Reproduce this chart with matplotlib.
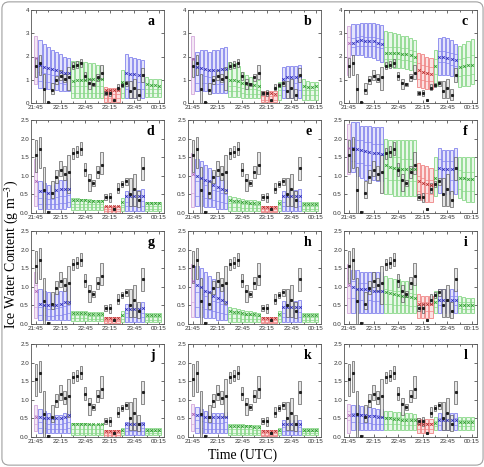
import numpy as np
import matplotlib.pyplot as plt
from matplotlib.patches import FancyBboxPatch

plt.rcParams['font.family'] = ['Liberation Sans', 'DejaVu Sans']
plt.rcParams['mathtext.fontset'] = 'stix'

# model output times (minutes after 21:45) and segment type of each box
t_mod = [0, 5, 10, 15, 20, 25, 30, 35, 40, 45, 50, 55, 60, 65, 70, 75, 80,
         85, 90, 95, 100, 105, 110, 115, 120, 125, 130, 135, 140, 145, 150]
mod_kind = "pbbbbbbbbggggggggrrrrgbbbbbgggg"

# observations (black boxes), same in every panel
t_obs = [0, 5, 10, 15, 20, 25, 30, 35, 40, 45, 50, 55, 60, 65, 70, 75, 80,
         85, 90, 95, 100, 105, 110, 115, 120, 125, 130]
obs_lo = [1.10, 1.20, 0.00, 0.00, 0.40, 0.80, 1.00, 0.90, 0.55, 1.45, 1.50, 1.55, 1.00, 0.60,
          0.72, 0.95, 1.05, 0.35, 0.30, 0.08, 0.55, 0.70, 0.75, 0.20, 0.20, 0.15, 0.90]
obs_hi = [1.95, 2.05, 1.25, 0.06, 0.85, 1.15, 1.40, 1.25, 1.55, 1.75, 1.80, 1.90, 1.35, 1.05,
          0.88, 1.25, 1.65, 0.50, 0.55, 0.14, 0.80, 0.85, 0.95, 0.95, 1.05, 0.60, 1.50]
obs_mid = [1.57, 1.72, 0.62, 0.03, 0.55, 0.97, 1.15, 1.05, 1.10, 1.60, 1.65, 1.72, 1.15, 0.88,
           0.80, 1.10, 1.30, 0.42, 0.42, 0.11, 0.65, 0.78, 0.85, 0.50, 0.65, 0.35, 1.20]

# panel a
a_hi = [2.90, 2.70, 2.55, 2.40, 2.30, 2.20, 2.10, 2.00, 1.95, 1.80, 1.80, 1.75, 1.75, 1.70, 1.70, 1.65,
        1.60, 0.70, 0.65, 0.65, 0.65, 1.40, 2.10, 2.00, 1.95, 1.90, 1.85, 1.10, 1.05, 1.05, 1.05]
a_q3 = [1.60, 1.35, 1.30, 1.25, 1.20, 1.20, 1.15, 1.10, 1.10, 0.75, 0.75, 0.75, 0.75, 0.75, 0.75, 0.75,
        0.75, 0.40, 0.40, 0.40, 0.40, 0.70, 0.95, 0.95, 0.90, 0.90, 0.90, 0.60, 0.60, 0.60, 0.60]
a_q1 = [1.15, 0.95, 0.90, 0.90, 0.85, 0.85, 0.85, 0.80, 0.80, 0.45, 0.45, 0.45, 0.45, 0.45, 0.45, 0.45,
        0.45, 0.20, 0.20, 0.20, 0.20, 0.45, 0.60, 0.60, 0.60, 0.60, 0.60, 0.45, 0.45, 0.45, 0.45]
a_lo = [0.80, 0.65, 0.60, 0.60, 0.55, 0.55, 0.50, 0.50, 0.50, 0.20, 0.20, 0.20, 0.20, 0.20, 0.20, 0.20,
        0.20, 0.05, 0.05, 0.05, 0.05, 0.20, 0.20, 0.20, 0.20, 0.20, 0.20, 0.25, 0.25, 0.25, 0.25]
a_mean = [1.95, 1.65, 1.55, 1.50, 1.45, 1.40, 1.35, 1.30, 1.30, 0.95, 0.97, 1.00, 1.00, 1.02, 1.02, 1.02,
          1.05, 0.55, 0.55, 0.55, 0.55, 0.90, 1.30, 1.25, 1.25, 1.20, 1.20, 0.80, 0.78, 0.77, 0.75]

# panel b
b_hi = [2.90, 2.20, 2.30, 2.30, 2.20, 2.30, 2.30, 2.35, 2.40, 1.75, 1.70, 1.60, 1.35, 1.20, 1.10, 1.00,
        1.00, 0.50, 0.50, 0.50, 0.50, 0.90, 1.55, 1.60, 1.60, 1.60, 1.65, 1.05, 0.95, 0.90, 0.90]
b_q3 = [1.60, 1.20, 1.20, 1.15, 1.10, 1.10, 1.10, 1.15, 1.15, 0.75, 0.75, 0.70, 0.65, 0.60, 0.60, 0.60,
        0.58, 0.30, 0.30, 0.30, 0.30, 0.55, 0.85, 0.85, 0.85, 0.85, 0.90, 0.55, 0.55, 0.55, 0.55]
b_q1 = [1.15, 0.85, 0.85, 0.85, 0.80, 0.80, 0.80, 0.80, 0.80, 0.50, 0.50, 0.50, 0.45, 0.40, 0.40, 0.40,
        0.40, 0.15, 0.15, 0.15, 0.15, 0.35, 0.55, 0.55, 0.55, 0.55, 0.55, 0.35, 0.35, 0.35, 0.35]
b_lo = [0.40, 0.50, 0.50, 0.50, 0.45, 0.45, 0.45, 0.45, 0.45, 0.25, 0.25, 0.25, 0.20, 0.20, 0.20, 0.20,
        0.20, 0.05, 0.05, 0.05, 0.05, 0.15, 0.20, 0.20, 0.20, 0.20, 0.20, 0.15, 0.15, 0.15, 0.15]
b_mean = [1.90, 1.55, 1.50, 1.45, 1.40, 1.40, 1.40, 1.45, 1.45, 1.00, 1.00, 0.95, 0.85, 0.80, 0.80, 0.78,
          0.75, 0.45, 0.42, 0.42, 0.40, 0.75, 1.05, 1.10, 1.10, 1.10, 1.15, 0.75, 0.70, 0.70, 0.72]

# panel c
c_hi = [3.30, 3.40, 3.40, 3.45, 3.45, 3.45, 3.45, 3.40, 3.35, 3.10, 3.05, 3.00, 2.95, 2.90, 2.90, 2.80,
        2.70, 2.15, 2.10, 2.00, 1.95, 2.30, 2.80, 2.85, 2.80, 2.70, 2.55, 2.45, 2.55, 2.65, 2.75]
c_q3 = [2.85, 2.80, 2.85, 2.90, 2.85, 2.85, 2.85, 2.80, 2.75, 2.40, 2.40, 2.40, 2.40, 2.35, 2.35, 2.30,
        2.25, 1.70, 1.65, 1.60, 1.55, 1.90, 2.25, 2.25, 2.20, 2.15, 2.10, 1.90, 1.95, 2.00, 2.05]
c_q1 = [2.00, 2.40, 2.45, 2.45, 2.45, 2.45, 2.45, 2.40, 2.35, 1.90, 1.90, 1.90, 1.90, 1.85, 1.85, 1.80,
        1.75, 1.05, 1.00, 0.95, 0.95, 1.25, 1.75, 1.75, 1.70, 1.65, 1.60, 1.15, 1.20, 1.20, 1.25]
c_lo = [1.20, 2.05, 2.05, 2.05, 2.00, 2.00, 1.95, 1.85, 1.75, 1.60, 1.55, 1.50, 1.50, 1.50, 1.45, 1.40,
        1.35, 0.70, 0.65, 0.60, 0.60, 0.75, 1.20, 1.20, 1.20, 1.15, 1.10, 0.70, 0.75, 0.75, 0.80]
c_mean = [2.60, 2.60, 2.65, 2.70, 2.65, 2.65, 2.65, 2.60, 2.55, 2.15, 2.15, 2.15, 2.15, 2.10, 2.10, 2.05,
          2.00, 1.40, 1.35, 1.30, 1.25, 1.60, 2.00, 2.00, 1.95, 1.90, 1.85, 1.55, 1.60, 1.65, 1.65]

# panel d
d_hi = [1.45, 0.85, 0.80, 0.75, 0.75, 0.85, 0.90, 0.90, 0.95, 0.40, 0.40, 0.38, 0.38, 0.37, 0.36, 0.35,
        0.34, 0.20, 0.20, 0.20, 0.20, 0.40, 0.60, 0.62, 0.62, 0.62, 0.65, 0.30, 0.30, 0.30, 0.30]
d_q3 = [1.10, 0.40, 0.40, 0.38, 0.38, 0.42, 0.45, 0.45, 0.48, 0.25, 0.25, 0.25, 0.25, 0.25, 0.24, 0.24,
        0.24, 0.12, 0.12, 0.12, 0.12, 0.22, 0.30, 0.30, 0.30, 0.30, 0.32, 0.18, 0.18, 0.18, 0.18]
d_q1 = [0.45, 0.25, 0.25, 0.25, 0.25, 0.25, 0.28, 0.28, 0.30, 0.15, 0.15, 0.15, 0.15, 0.15, 0.15, 0.15,
        0.15, 0.06, 0.06, 0.06, 0.06, 0.15, 0.18, 0.18, 0.18, 0.18, 0.18, 0.12, 0.12, 0.12, 0.12]
d_lo = [0.20, 0.10, 0.10, 0.10, 0.10, 0.10, 0.10, 0.10, 0.15, 0.08, 0.08, 0.08, 0.08, 0.08, 0.08, 0.08,
        0.08, 0.00, 0.00, 0.00, 0.00, 0.05, 0.05, 0.05, 0.05, 0.05, 0.05, 0.05, 0.05, 0.05, 0.05]
d_mean = [0.85, 0.60, 0.60, 0.55, 0.55, 0.62, 0.65, 0.65, 0.65, 0.36, 0.35, 0.34, 0.34, 0.33, 0.32, 0.32,
          0.31, 0.18, 0.18, 0.18, 0.18, 0.30, 0.45, 0.46, 0.46, 0.46, 0.47, 0.26, 0.26, 0.26, 0.26]

# panel e
e_hi = [1.60, 1.45, 1.40, 1.30, 1.20, 1.10, 1.00, 0.95, 0.90, 0.45, 0.42, 0.40, 0.38, 0.36, 0.35, 0.34,
        0.33, 0.18, 0.18, 0.18, 0.18, 0.35, 0.60, 0.62, 0.62, 0.62, 0.65, 0.30, 0.30, 0.30, 0.30]
e_q3 = [1.15, 0.85, 0.80, 0.75, 0.70, 0.62, 0.58, 0.55, 0.52, 0.28, 0.27, 0.26, 0.25, 0.24, 0.23, 0.22,
        0.22, 0.11, 0.11, 0.11, 0.11, 0.22, 0.30, 0.30, 0.30, 0.30, 0.32, 0.18, 0.18, 0.18, 0.18]
e_q1 = [0.55, 0.45, 0.45, 0.40, 0.38, 0.35, 0.32, 0.30, 0.28, 0.15, 0.15, 0.15, 0.14, 0.14, 0.14, 0.13,
        0.13, 0.06, 0.06, 0.06, 0.06, 0.13, 0.18, 0.18, 0.18, 0.18, 0.18, 0.12, 0.12, 0.12, 0.12]
e_lo = [0.15, 0.20, 0.20, 0.15, 0.15, 0.15, 0.10, 0.10, 0.10, 0.05, 0.05, 0.05, 0.05, 0.05, 0.05, 0.05,
        0.05, 0.03, 0.03, 0.03, 0.03, 0.05, 0.05, 0.05, 0.05, 0.05, 0.05, 0.05, 0.05, 0.05, 0.05]
e_mean = [1.05, 1.00, 0.95, 0.90, 0.85, 0.75, 0.70, 0.65, 0.62, 0.35, 0.33, 0.32, 0.30, 0.29, 0.28, 0.27,
          0.26, 0.15, 0.15, 0.15, 0.15, 0.28, 0.45, 0.46, 0.46, 0.46, 0.47, 0.25, 0.25, 0.25, 0.25]

# panel f
f_hi = [2.40, 2.45, 2.45, 2.35, 2.35, 2.35, 2.30, 2.30, 2.30, 2.00, 1.95, 1.95, 1.95, 1.95, 1.95, 1.95,
        1.95, 1.35, 1.30, 1.25, 1.20, 1.50, 1.75, 1.70, 1.70, 1.70, 1.75, 1.50, 1.50, 1.50, 1.50]
f_q3 = [2.00, 2.00, 1.95, 1.95, 1.90, 1.90, 1.85, 1.85, 1.85, 1.55, 1.50, 1.50, 1.50, 1.45, 1.45, 1.45,
        1.45, 1.00, 0.95, 0.90, 0.90, 1.15, 1.45, 1.40, 1.40, 1.40, 1.45, 1.15, 1.10, 1.10, 1.10]
f_q1 = [1.45, 1.40, 1.35, 1.35, 1.30, 1.30, 1.30, 1.25, 1.25, 0.95, 0.90, 0.90, 0.90, 0.85, 0.85, 0.85,
        0.85, 0.60, 0.55, 0.55, 0.50, 0.70, 0.90, 0.90, 0.90, 0.90, 0.90, 0.65, 0.60, 0.60, 0.60]
f_lo = [1.05, 1.10, 1.00, 0.95, 0.90, 0.90, 0.90, 0.85, 0.85, 0.50, 0.50, 0.45, 0.45, 0.45, 0.45, 0.45,
        0.45, 0.40, 0.35, 0.30, 0.30, 0.45, 0.55, 0.50, 0.50, 0.50, 0.50, 0.40, 0.35, 0.30, 0.30]
f_mean = [1.75, 1.75, 1.72, 1.70, 1.68, 1.65, 1.62, 1.60, 1.58, 1.30, 1.25, 1.22, 1.20, 1.18, 1.18, 1.18,
          1.18, 0.85, 0.80, 0.77, 0.75, 0.95, 1.20, 1.18, 1.18, 1.18, 1.20, 0.95, 0.93, 0.92, 0.92]

# panel g
g_hi = [1.40, 0.95, 0.90, 0.85, 0.80, 0.85, 0.90, 0.95, 1.00, 0.35, 0.35, 0.34, 0.34, 0.33, 0.33, 0.32,
        0.32, 0.20, 0.20, 0.20, 0.20, 0.35, 0.55, 0.55, 0.55, 0.55, 0.58, 0.30, 0.30, 0.30, 0.30]
g_q3 = [1.05, 0.45, 0.42, 0.40, 0.40, 0.42, 0.45, 0.48, 0.50, 0.24, 0.24, 0.23, 0.23, 0.22, 0.22, 0.22,
        0.22, 0.12, 0.12, 0.12, 0.12, 0.22, 0.30, 0.30, 0.30, 0.30, 0.30, 0.18, 0.18, 0.18, 0.18]
g_q1 = [0.45, 0.25, 0.25, 0.22, 0.22, 0.25, 0.25, 0.28, 0.30, 0.15, 0.15, 0.15, 0.15, 0.14, 0.14, 0.14,
        0.14, 0.07, 0.07, 0.07, 0.07, 0.14, 0.18, 0.18, 0.18, 0.18, 0.18, 0.12, 0.12, 0.12, 0.12]
g_lo = [0.15, 0.10, 0.10, 0.10, 0.10, 0.10, 0.10, 0.10, 0.12, 0.08, 0.08, 0.08, 0.08, 0.08, 0.08, 0.08,
        0.08, 0.03, 0.03, 0.03, 0.03, 0.05, 0.05, 0.05, 0.05, 0.05, 0.05, 0.05, 0.05, 0.05, 0.05]
g_mean = [0.90, 0.55, 0.52, 0.50, 0.50, 0.52, 0.55, 0.58, 0.60, 0.30, 0.30, 0.29, 0.29, 0.28, 0.28, 0.28,
          0.28, 0.15, 0.15, 0.15, 0.15, 0.25, 0.40, 0.40, 0.40, 0.40, 0.42, 0.25, 0.25, 0.25, 0.25]

# panel h
h_hi = [1.60, 1.55, 1.50, 1.40, 1.30, 1.20, 1.10, 1.05, 1.00, 0.45, 0.42, 0.40, 0.38, 0.35, 0.34, 0.32,
        0.30, 0.18, 0.18, 0.18, 0.18, 0.35, 0.62, 0.62, 0.62, 0.62, 0.65, 0.30, 0.30, 0.30, 0.30]
h_q3 = [1.25, 0.85, 0.80, 0.75, 0.70, 0.62, 0.58, 0.55, 0.52, 0.28, 0.27, 0.26, 0.25, 0.24, 0.23, 0.22,
        0.21, 0.11, 0.11, 0.11, 0.11, 0.22, 0.30, 0.30, 0.30, 0.30, 0.32, 0.18, 0.18, 0.18, 0.18]
h_q1 = [0.60, 0.45, 0.45, 0.40, 0.38, 0.35, 0.32, 0.30, 0.28, 0.15, 0.15, 0.15, 0.14, 0.14, 0.14, 0.13,
        0.13, 0.06, 0.06, 0.06, 0.06, 0.13, 0.18, 0.18, 0.18, 0.18, 0.18, 0.12, 0.12, 0.12, 0.12]
h_lo = [0.20, 0.20, 0.20, 0.15, 0.15, 0.15, 0.10, 0.10, 0.10, 0.05, 0.05, 0.05, 0.05, 0.05, 0.05, 0.05,
        0.05, 0.03, 0.03, 0.03, 0.03, 0.05, 0.05, 0.05, 0.05, 0.05, 0.05, 0.05, 0.05, 0.05, 0.05]
h_mean = [1.15, 1.05, 1.00, 0.90, 0.85, 0.75, 0.70, 0.65, 0.60, 0.35, 0.33, 0.32, 0.30, 0.28, 0.27, 0.26,
          0.25, 0.15, 0.15, 0.15, 0.15, 0.28, 0.45, 0.45, 0.45, 0.45, 0.47, 0.25, 0.25, 0.25, 0.25]

# panel i
i_hi = [1.60, 1.45, 1.45, 1.40, 1.40, 1.40, 1.40, 1.40, 1.40, 1.30, 1.25, 1.20, 1.20, 1.15, 1.15, 1.10,
        1.10, 0.80, 0.75, 0.75, 0.75, 0.90, 0.95, 0.95, 0.95, 0.95, 0.95, 0.75, 0.72, 0.70, 0.70]
i_q3 = [1.25, 1.15, 1.10, 1.10, 1.10, 1.05, 1.05, 1.05, 1.05, 0.95, 0.92, 0.90, 0.88, 0.86, 0.84, 0.82,
        0.80, 0.62, 0.60, 0.60, 0.60, 0.70, 0.75, 0.75, 0.75, 0.75, 0.75, 0.60, 0.58, 0.58, 0.58]
i_q1 = [0.70, 0.70, 0.65, 0.65, 0.65, 0.65, 0.62, 0.62, 0.62, 0.55, 0.55, 0.52, 0.52, 0.50, 0.50, 0.48,
        0.48, 0.35, 0.35, 0.35, 0.35, 0.45, 0.50, 0.50, 0.50, 0.50, 0.50, 0.42, 0.40, 0.40, 0.40]
i_lo = [0.30, 0.30, 0.30, 0.30, 0.30, 0.30, 0.30, 0.30, 0.30, 0.30, 0.30, 0.30, 0.30, 0.30, 0.30, 0.30,
        0.30, 0.15, 0.15, 0.15, 0.15, 0.30, 0.30, 0.30, 0.30, 0.30, 0.30, 0.30, 0.30, 0.30, 0.30]
i_mean = [1.05, 1.00, 0.95, 0.95, 0.93, 0.92, 0.90, 0.90, 0.90, 0.85, 0.82, 0.80, 0.78, 0.76, 0.74, 0.72,
          0.70, 0.55, 0.55, 0.55, 0.55, 0.60, 0.65, 0.65, 0.65, 0.65, 0.65, 0.52, 0.52, 0.52, 0.52]

# panel j
j_hi = [0.85, 0.75, 0.70, 0.65, 0.60, 0.60, 0.60, 0.65, 0.70, 0.38, 0.38, 0.37, 0.37, 0.36, 0.36, 0.36,
        0.36, 0.20, 0.20, 0.20, 0.20, 0.25, 0.40, 0.40, 0.40, 0.40, 0.40, 0.25, 0.25, 0.25, 0.25]
j_q3 = [0.60, 0.40, 0.38, 0.36, 0.35, 0.35, 0.35, 0.38, 0.40, 0.22, 0.22, 0.22, 0.22, 0.21, 0.21, 0.21,
        0.21, 0.10, 0.10, 0.10, 0.10, 0.15, 0.25, 0.25, 0.25, 0.25, 0.25, 0.15, 0.15, 0.15, 0.15]
j_q1 = [0.35, 0.25, 0.25, 0.22, 0.22, 0.22, 0.22, 0.22, 0.25, 0.12, 0.12, 0.12, 0.12, 0.12, 0.12, 0.12,
        0.12, 0.05, 0.05, 0.05, 0.05, 0.10, 0.15, 0.15, 0.15, 0.15, 0.15, 0.10, 0.10, 0.10, 0.10]
j_lo = [0.15, 0.10, 0.10, 0.10, 0.10, 0.10, 0.10, 0.10, 0.10, 0.05, 0.05, 0.05, 0.05, 0.05, 0.05, 0.05,
        0.05, 0.00, 0.00, 0.00, 0.00, 0.05, 0.05, 0.05, 0.05, 0.05, 0.05, 0.05, 0.05, 0.05, 0.05]
j_mean = [0.55, 0.55, 0.52, 0.50, 0.50, 0.50, 0.52, 0.55, 0.60, 0.35, 0.35, 0.34, 0.34, 0.34, 0.34, 0.34,
          0.34, 0.15, 0.15, 0.15, 0.15, 0.20, 0.35, 0.35, 0.35, 0.35, 0.35, 0.20, 0.20, 0.20, 0.20]

# panel k
k_hi = [0.90, 0.80, 0.75, 0.70, 0.68, 0.65, 0.65, 0.65, 0.68, 0.35, 0.35, 0.34, 0.34, 0.33, 0.33, 0.32,
        0.32, 0.20, 0.20, 0.20, 0.20, 0.25, 0.45, 0.45, 0.45, 0.45, 0.45, 0.25, 0.25, 0.25, 0.25]
k_q3 = [0.65, 0.45, 0.42, 0.40, 0.38, 0.38, 0.38, 0.38, 0.40, 0.22, 0.22, 0.22, 0.21, 0.21, 0.21, 0.20,
        0.20, 0.11, 0.11, 0.11, 0.11, 0.15, 0.28, 0.28, 0.28, 0.28, 0.28, 0.15, 0.15, 0.15, 0.15]
k_q1 = [0.35, 0.25, 0.25, 0.22, 0.22, 0.22, 0.22, 0.22, 0.22, 0.12, 0.12, 0.12, 0.12, 0.12, 0.12, 0.12,
        0.12, 0.06, 0.06, 0.06, 0.06, 0.10, 0.15, 0.15, 0.15, 0.15, 0.15, 0.10, 0.10, 0.10, 0.10]
k_lo = [0.15, 0.10, 0.10, 0.10, 0.10, 0.10, 0.10, 0.10, 0.10, 0.05, 0.05, 0.05, 0.05, 0.05, 0.05, 0.05,
        0.05, 0.03, 0.03, 0.03, 0.03, 0.05, 0.05, 0.05, 0.05, 0.05, 0.05, 0.05, 0.05, 0.05, 0.05]
k_mean = [0.62, 0.60, 0.58, 0.55, 0.55, 0.53, 0.53, 0.53, 0.55, 0.30, 0.30, 0.30, 0.29, 0.29, 0.29, 0.28,
          0.28, 0.15, 0.15, 0.15, 0.15, 0.20, 0.35, 0.35, 0.35, 0.35, 0.35, 0.20, 0.20, 0.20, 0.20]

# panel l
l_hi = [0.90, 0.85, 0.85, 0.82, 0.80, 0.80, 0.78, 0.76, 0.75, 0.70, 0.70, 0.68, 0.68, 0.66, 0.65, 0.64,
        0.62, 0.50, 0.48, 0.48, 0.48, 0.55, 0.65, 0.65, 0.65, 0.65, 0.65, 0.55, 0.55, 0.55, 0.55]
l_q3 = [0.70, 0.65, 0.65, 0.62, 0.62, 0.60, 0.60, 0.58, 0.58, 0.55, 0.55, 0.54, 0.53, 0.52, 0.51, 0.50,
        0.50, 0.40, 0.38, 0.38, 0.38, 0.42, 0.50, 0.50, 0.50, 0.50, 0.50, 0.45, 0.45, 0.45, 0.45]
l_q1 = [0.45, 0.40, 0.40, 0.38, 0.38, 0.38, 0.36, 0.36, 0.35, 0.35, 0.35, 0.34, 0.34, 0.33, 0.33, 0.32,
        0.32, 0.22, 0.22, 0.22, 0.22, 0.30, 0.32, 0.32, 0.32, 0.32, 0.32, 0.30, 0.30, 0.30, 0.30]
l_lo = [0.10, 0.20, 0.20, 0.20, 0.20, 0.20, 0.20, 0.20, 0.20, 0.20, 0.20, 0.20, 0.20, 0.20, 0.20, 0.20,
        0.20, 0.10, 0.10, 0.10, 0.10, 0.20, 0.20, 0.20, 0.20, 0.20, 0.20, 0.20, 0.20, 0.20, 0.20]
l_mean = [0.60, 0.60, 0.60, 0.58, 0.58, 0.57, 0.56, 0.55, 0.55, 0.50, 0.50, 0.49, 0.48, 0.47, 0.46, 0.45,
          0.45, 0.35, 0.34, 0.34, 0.34, 0.38, 0.45, 0.45, 0.45, 0.45, 0.45, 0.40, 0.40, 0.40, 0.40]

panels = [
    ("a", a_lo, a_q1, a_q3, a_hi, a_mean, 4), ("b", b_lo, b_q1, b_q3, b_hi, b_mean, 4),
    ("c", c_lo, c_q1, c_q3, c_hi, c_mean, 4), ("d", d_lo, d_q1, d_q3, d_hi, d_mean, 2.5),
    ("e", e_lo, e_q1, e_q3, e_hi, e_mean, 2.5), ("f", f_lo, f_q1, f_q3, f_hi, f_mean, 2.5),
    ("g", g_lo, g_q1, g_q3, g_hi, g_mean, 2.5), ("h", h_lo, h_q1, h_q3, h_hi, h_mean, 2.5),
    ("i", i_lo, i_q1, i_q3, i_hi, i_mean, 2.5), ("j", j_lo, j_q1, j_q3, j_hi, j_mean, 2.5),
    ("k", k_lo, k_q1, k_q3, k_hi, k_mean, 2.5), ("l", l_lo, l_q1, l_q3, l_hi, l_mean, 2.5),
]

# edge, fill, marker colours per segment type
styles = {
    "p": ("#cc99d6", "#f3e8f5", "#a860b4"),
    "b": ("#6e6eea", "#e4e4fb", "#2828b8"),
    "g": ("#74d074", "#eaf8ea", "#2a9a2a"),
    "r": ("#ec7070", "#fce2e2", "#b82828"),
}

xticks = [0, 30, 60, 90, 120, 150]
xlabels = ["21:45", "22:15", "22:45", "23:15", "23:45", "00:15"]

W, H = 485, 467
fig = plt.figure(figsize=(W / 100, H / 100), dpi=100)
lefts = [31, 188, 344]
tops = [10, 120, 231, 344]
aw, ah = 133, 93

for n, (lab, lo, q1, q3, hi, mean, ymax) in enumerate(panels):
    r, c = divmod(n, 3)
    ax = fig.add_axes([lefts[c] / W, 1 - (tops[r] + ah) / H, aw / W, ah / H])
    lo, q1, q3, hi, mean = map(np.array, (lo, q1, q3, hi, mean))
    t = np.array(t_mod)
    for k in "pbgr":
        m = np.array([s == k for s in mod_kind])
        ec, fc, mc = styles[k]
        ax.bar(t[m], hi[m] - lo[m], bottom=lo[m], width=3.8, color=fc, edgecolor=ec,
               linewidth=0.5, zorder=2)
        ax.hlines(np.r_[q1[m], q3[m]], np.r_[t[m], t[m]] - 1.9, np.r_[t[m], t[m]] + 1.9,
                  color=ec, linewidth=0.4, zorder=2)
        ax.plot(t[m], mean[m], "x", color=mc, markersize=1.8, markeredgewidth=0.6, zorder=4)
    to = np.array(t_obs)
    olo, ohi, omid = np.array(obs_lo), np.array(obs_hi), np.array(obs_mid)
    ax.bar(to, ohi - olo, bottom=olo, width=3.2, color="#e6e6e6", edgecolor="#505050",
           linewidth=0.45, zorder=3)
    ax.plot(to, omid, "s", color="#202020", markersize=1.2, zorder=5)

    ax.set_xlim(-6, 156)
    ax.set_ylim(0, ymax)
    ax.set_xticks(xticks)
    ax.set_xticklabels(xlabels)
    ax.set_xticks([15, 45, 75, 105, 135], minor=True)
    if ymax == 4:
        ax.set_yticks([0, 1, 2, 3, 4])
    else:
        ax.set_yticks([0, 0.5, 1.0, 1.5, 2.0, 2.5])
        ax.set_yticklabels(["0.0", "0.5", "1.0", "1.5", "2.0", "2.5"])
    ax.tick_params(which="both", direction="in", top=True, right=True, length=2,
                   width=0.5, labelsize=4.5, pad=1.5, colors="#333333")
    ax.tick_params(which="minor", length=1.5)
    for sp in ax.spines.values():
        sp.set_linewidth(0.6)
        sp.set_color("#555555")
    ax.text(0.93, 0.88, lab, transform=ax.transAxes, ha="right", va="center",
            fontsize=10, fontweight="bold", family="Liberation Serif")

fig.text(12 / W, 0.455, "Ice Water Content (g m$^{-3}$)", rotation=90, ha="center",
         va="center", fontsize=10, family="Liberation Serif")
fig.text(0.5, 1 - 455 / H, "Time (UTC)", ha="center", va="center", fontsize=10,
         family="Liberation Serif")

frame = FancyBboxPatch((0.004, 0.004), 0.992, 0.992, boxstyle="round,pad=0,rounding_size=0.015",
                       transform=fig.transFigure, fill=False, edgecolor="#a0a0a0", linewidth=0.8)
fig.patches.append(frame)

fig.savefig("out.png", dpi=100)
